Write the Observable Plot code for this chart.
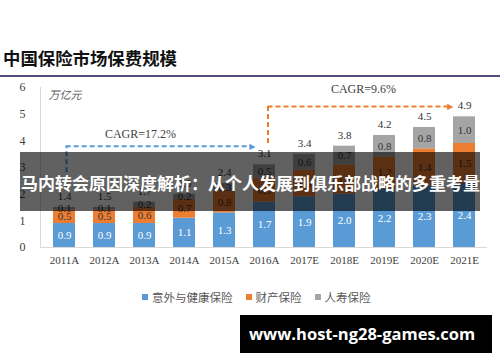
<!DOCTYPE html>
<html>
<head>
<meta charset="utf-8">
<script src="https://cdn.jsdelivr.net/npm/d3@7"></script>
<script src="https://cdn.jsdelivr.net/npm/@observablehq/plot@0.6"></script>
<style>
  html, body { margin: 0; padding: 0; background: #fff; }
  #root { position: relative; width: 500px; height: 362px; overflow: hidden; background: #fff; }
  #title { position: absolute; left: 3px; top: 47px; font-family: "Noto Sans CJK SC", sans-serif; font-weight: 700; font-size: 17.4px; line-height: 22px; color: #111; white-space: nowrap; }
  #rule { position: absolute; left: 0; top: 75px; width: 500px; height: 2px; background: #4f4f78; }
  #chart { position: absolute; left: 0; top: 80px; }
  #legend { position: absolute; left: 142px; top: 289px; display: flex; gap: 13px; font-family: "Noto Sans CJK SC", sans-serif; font-size: 11.5px; line-height: 16px; color: #595959; white-space: nowrap; }
  #legend .item { display: flex; align-items: center; gap: 4px; }
  #legend .sw { width: 6px; height: 6px; display: inline-block; }
  #banner { position: absolute; left: 20px; top: 152px; width: 460px; height: 59px; background: rgba(0,0,0,0.62); }
  #banner span { position: absolute; left: 1px; top: 19px; font-family: "Noto Sans CJK SC", sans-serif; font-weight: 700; font-size: 17px; line-height: 24px; color: #fff; white-space: nowrap; }
  #wm { position: absolute; left: 240px; top: 315px; width: 252px; height: 38px; background: #000; }
  #wm span { position: absolute; left: 9px; top: 7px; font-family: "Open Sans", sans-serif; font-weight: 700; font-size: 16.5px; line-height: 24px; color: #fff; white-space: nowrap; }
</style>
</head>
<body>
<div id="root">
  <div id="title">中国保险市场保费规模</div>
  <div id="rule"></div>
  <div id="chart"></div>
  <div id="legend"></div>
  <div id="banner"><span>马内转会原因深度解析：从个人发展到俱乐部战略的多重考量</span></div>
  <div id="wm"><span>www.host-ng28-games.com</span></div>
</div>
<script>
const years = ["2011A","2012A","2013A","2014A","2015A","2016A","2017E","2018E","2019E","2020E","2021E"];
const health = [0.9, 0.9, 0.9, 1.1, 1.3, 1.7, 1.9, 2.0, 2.2, 2.3, 2.4];
const property = [0.5, 0.5, 0.6, 0.7, 0.8, 0.9, 1.0, 1.1, 1.2, 1.4, 1.5];
const life = [0.1, 0.1, 0.2, 0.2, 0.3, 0.5, 0.6, 0.7, 0.8, 0.8, 1.0];
const totals = [1.4, 1.5, 1.7, 2.0, 2.4, 3.1, 3.4, 3.8, 4.2, 4.5, 4.9];
const seriesNames = ["意外与健康保险", "财产保险", "人寿保险"];
const seriesColors = ["#5b9bd5", "#ed7d31", "#a5a5a5"];
const yTicks = [0, 1, 2, 3, 4, 5, 6];
const unitLabel = "万亿元";
const cagrEarly = {label: "CAGR=17.2%", from: "2011A", to: "2016A", base: 2.2, level: 3.8, labelAt: "2013A", labelY: 4.24};
const cagrLate = {label: "CAGR=9.6%", from: "2016A", to: "2021E", base: 3.9, level: 5.29, labelAt: "2018E", labelY: 5.92};

const seriesValues = [health, property, life];
const rows = [];
years.forEach((yr, i) => {
  seriesNames.forEach((s, k) => rows.push({year: yr, series: s, value: seriesValues[k][i]}));
});
const stackTop = years.map((yr, i) => health[i] + property[i] + life[i]);

const blue = seriesColors[0], orange = seriesColors[1];
const dash = "5,3";

const chart = Plot.plot({
  width: 500,
  height: 200,
  marginLeft: 40,
  marginRight: 13,
  marginTop: 7,
  marginBottom: 33,
  style: {fontFamily: "Liberation Serif, serif", fontSize: "11px", color: "#404040", background: "transparent"},
  x: {domain: years, paddingInner: 0.46, paddingOuter: 0.23, label: null, tickSize: 0, tickPadding: 9},
  y: {domain: [0, 6], axis: null},
  color: {domain: seriesNames, range: seriesColors},
  marks: [
    Plot.barY(rows, {x: "year", y: "value", fill: "series", z: "series"}),
    Plot.ruleY([0], {stroke: "#d9d9d9"}),
    Plot.frame({anchor: "left", stroke: "#d9d9d9"}),
    Plot.axisY(yTicks, {tickSize: 0, tickPadding: 15, fontSize: 12, fill: "#404040", label: null}),
    Plot.text(rows, Plot.stackY({
      x: "year", y: "value", z: "series",
      text: d => d.value.toFixed(1),
      fill: d => d.series === seriesNames[0] ? "#ffffff" : "#333333",
      fontSize: 11
    })),
    Plot.text(years, {x: d => d, y: (d, i) => stackTop[i], text: (d, i) => totals[i].toFixed(1), dy: -11, fill: "#333333", fontSize: 11}),
    Plot.text([unitLabel], {frameAnchor: "top-left", dx: 8, dy: 4, lineAnchor: "top", textAnchor: "start", fill: "#595959", fontSize: 11, fontFamily: "Noto Sans CJK SC, sans-serif", fontStyle: "italic"}),
    // early CAGR arrow
    Plot.ruleX([cagrEarly], {x: d => d.from, y1: d => d.base, y2: d => d.level, dx: 2, stroke: blue, strokeWidth: 2, strokeDasharray: dash}),
    Plot.ruleY([cagrEarly], {y: d => d.level, x1: d => d.from, x2: d => d.to, insetLeft: 12.7, insetRight: 24.5, stroke: blue, strokeWidth: 2, strokeDasharray: dash}),
    Plot.text([cagrEarly], {x: d => d.to, y: d => d.level, text: () => "▶", dx: -9, textAnchor: "end", fill: blue, fontSize: 8, fontFamily: "DejaVu Sans, sans-serif"}),
    Plot.text([cagrEarly], {x: d => d.labelAt, y: d => d.labelY, text: d => d.label, dx: -4, fill: "#404040", fontSize: 12}),
    // late CAGR arrow
    Plot.ruleX([cagrLate], {x: d => d.from, y1: d => d.base, y2: d => d.level, dx: 3.5, stroke: orange, strokeWidth: 2, strokeDasharray: dash}),
    Plot.ruleY([cagrLate], {y: d => d.level, x1: d => d.from, x2: d => d.to, insetLeft: 14.5, insetRight: 25.5, stroke: orange, strokeWidth: 2, strokeDasharray: dash}),
    Plot.text([cagrLate], {x: d => d.to, y: d => d.level, text: () => "▶", dx: -11, textAnchor: "end", fill: orange, fontSize: 8, fontFamily: "DejaVu Sans, sans-serif"}),
    Plot.text([cagrLate], {x: d => d.labelAt, y: d => d.labelY, text: d => d.label, dx: 19, fill: "#404040", fontSize: 12})
  ]
});
document.getElementById("chart").appendChild(chart);

const legend = document.getElementById("legend");
seriesNames.forEach((s, k) => {
  const item = document.createElement("div");
  item.className = "item";
  const sw = document.createElement("span");
  sw.className = "sw";
  sw.style.background = seriesColors[k];
  const t = document.createElement("span");
  t.textContent = s;
  item.appendChild(sw);
  item.appendChild(t);
  legend.appendChild(item);
});
</script>
</body>
</html>
